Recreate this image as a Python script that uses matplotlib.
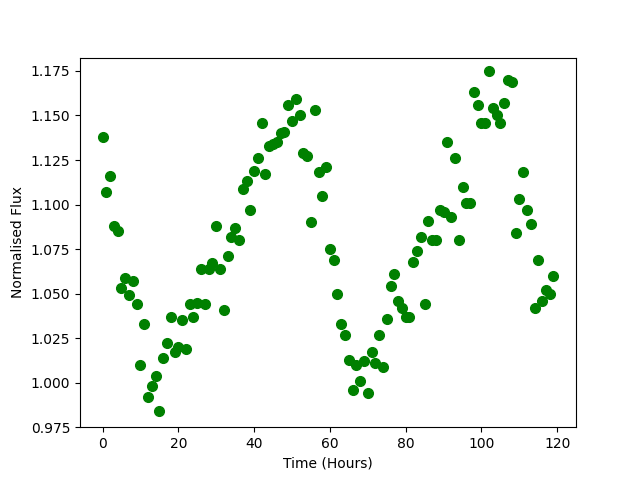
import numpy as np
import matplotlib
matplotlib.use("Agg")
import matplotlib.pyplot as plt

# hours of observation
hours = np.arange(120)

# normalised flux
flux = [1.138, 1.107, 1.116, 1.088, 1.085, 1.053, 1.059, 1.049, 1.057, 1.044,
        1.010, 1.033, 0.992, 0.998, 1.004, 0.984, 1.014, 1.022, 1.037, 1.017,
        1.020, 1.035, 1.019, 1.044, 1.037, 1.045, 1.064, 1.044, 1.064, 1.067,
        1.088, 1.064, 1.041, 1.071, 1.082, 1.087, 1.080, 1.109, 1.113, 1.097,
        1.119, 1.126, 1.146, 1.117, 1.133, 1.134, 1.135, 1.140, 1.141, 1.156,
        1.147, 1.159, 1.150, 1.129, 1.127, 1.090, 1.153, 1.118, 1.105, 1.121,
        1.075, 1.069, 1.050, 1.033, 1.027, 1.013, 0.996, 1.010, 1.001, 1.012,
        0.994, 1.017, 1.011, 1.027, 1.009, 1.036, 1.054, 1.061, 1.046, 1.042,
        1.037, 1.037, 1.068, 1.074, 1.082, 1.044, 1.091, 1.080, 1.080, 1.097,
        1.096, 1.135, 1.093, 1.126, 1.080, 1.110, 1.101, 1.101, 1.163, 1.156,
        1.146, 1.146, 1.175, 1.154, 1.150, 1.146, 1.157, 1.170, 1.169, 1.084,
        1.103, 1.118, 1.097, 1.089, 1.042, 1.069, 1.046, 1.052, 1.050, 1.060]

fig = plt.figure(figsize=(6.4, 4.8), dpi=100)
plt.plot(hours, flux, 'o', color='green', markersize=7)
plt.xlabel("Time (Hours)")
plt.ylabel("Normalised Flux")
plt.yticks(np.arange(0.975, 1.176, 0.025))
plt.ylim(0.975, 1.1825)
plt.savefig('out.png')
